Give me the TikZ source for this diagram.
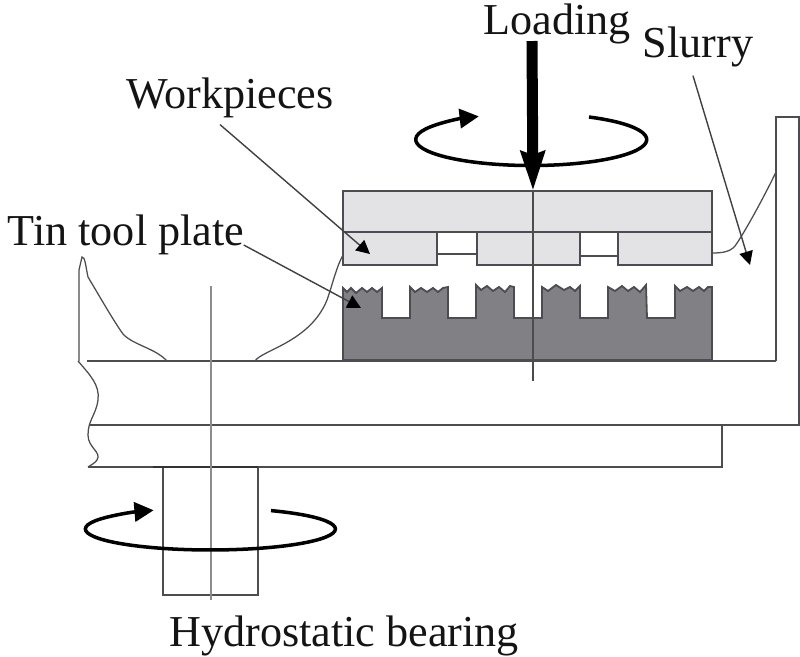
\documentclass[tikz,border=0pt]{standalone}
\usepackage{fontspec}
\setmainfont{Liberation Serif}
\usetikzlibrary{arrows.meta}
\begin{document}
\begin{tikzpicture}[x=0.0125cm,y=-0.0125cm,
  lbl/.style={inner sep=0pt,font=\fontsize{15.7}{18}\selectfont,text=black!92},
  leader/.style={draw=clead,line width=0.5pt,-{Stealth[length=0.17cm,width=0.17cm,inset=0pt,color=black]}},
  outline/.style={draw=cline,line width=0.65pt},
  thin line/.style={draw=cline,line width=0.45pt},
  axis line/.style={draw=caxis,line width=0.5pt},
  spin/.style={draw=black,line width=1.25pt,-{Stealth[length=0.24cm,width=0.24cm,inset=0pt]}}]
%
\useasboundingbox (0,0) rectangle (800,656);
%
\definecolor{cline}{rgb}{0.30,0.30,0.32}
\definecolor{clead}{rgb}{0.25,0.25,0.27}
\definecolor{caxis}{rgb}{0.55,0.55,0.56}
\definecolor{cwork}{rgb}{0.89,0.89,0.90}
\definecolor{ctool}{rgb}{0.50,0.50,0.52}
%
% rotary table and the wall on its right
\draw[outline] (87,361) -- (776,361) (776,361) -- (776,117) -- (799,117) -- (799,425) -- (90,425);
\draw[outline] (88,467) -- (722,467) -- (722,425);
\draw[thin line] (78,361) .. controls (90,375) and (100,385) .. (98,400) .. controls (96,415) and (88,420) .. (88,435) .. controls (88,448) and (102,452) .. (97,460) .. controls (95,463) and (91,465) .. (88,467);
%
% slurry surface
\draw[thin line] (79,361) -- (79,270) -- (82,257) .. controls (85,256) and (86,268) .. (88,277) .. controls (100,297) and (113,320) .. (123,334) .. controls (133,345) and (155,348) .. (167,361);
\draw[thin line] (255,361) .. controls (262,350) and (310,342) .. (327,300) .. controls (333,283) and (336,268) .. (343,255);
\draw[thin line] (712,253) .. controls (722,253) and (730,252) .. (735,246) .. controls (745,232) and (765,195) .. (776,172);
%
% carrier plate with the workpieces
\draw[outline,fill=cwork] (343,191) rectangle (712,232);
\draw[outline,fill=cwork] (343,232) rectangle (437,265);
\draw[outline,fill=cwork] (477,232) rectangle (580,265);
\draw[outline,fill=cwork] (618,232) rectangle (712,265);
\draw[outline] (437,254) -- (477,254) (580,256) -- (618,256);
%
% tool plate with its grooves and rough top
\draw[outline,fill=ctool] (343,360) -- (343,288) -- (347,292) -- (351,288) -- (356,293) -- (362,288) -- (367,292) -- (372,288) -- (377,292) -- (382,288)
  -- (382,318) -- (410,318) -- (410,287) -- (415,292) -- (421,288) -- (427,292) -- (433,288) -- (438,292) -- (443,288) -- (448,287)
  -- (448,318) -- (476,318) -- (476,285) -- (481,290) -- (487,286) -- (493,291) -- (499,287) -- (505,292) -- (510,286) -- (514,287)
  -- (514,318) -- (542,318) -- (542,287) -- (548,291) -- (556,285) -- (564,290) -- (570,287) -- (575,291) -- (580,286)
  -- (580,318) -- (608,318) -- (608,287) -- (615,291) -- (622,286) -- (628,291) -- (634,287) -- (640,292) -- (646,285)
  -- (647,318) -- (675,318) -- (675,286) -- (680,291) -- (687,287) -- (693,291) -- (699,287) -- (704,291) -- (708,287) -- (712,287)
  -- (712,360) -- cycle;
%
% hydrostatic bearing
\draw[outline] (163,467) -- (163,595) -- (258,595) -- (258,467);
\draw[draw=black!80,line width=0.85pt] (153,467) -- (258,467);
%
% rotation axes
\coordinate (topaxis) at (533,191);
\coordinate (topaxisend) at (533,381);
\coordinate (botaxis) at (211,286);
\coordinate (botaxisend) at (211,600);
\draw[draw=black!70,line width=0.5pt] (topaxis) -- (topaxisend);
\draw[axis line] (botaxis) -- (botaxisend);
%
% rotation arrows
\draw[spin] (589,117) arc[start angle=-60,end angle=243,x radius=115.5,y radius=26];
\draw[spin] (271,510.6) arc[start angle=-61,end angle=243,x radius=125,y radius=21];
%
% labels
\node[lbl] (loading) at (557,24) {Loading};
\node[lbl] (slurry) at (698,47) {Slurry};
\node[lbl] (workpieces) at (230,98) {Workpieces};
\node[lbl] (tinplate) at (126,235) {Tin tool plate};
\node[lbl] (bearing) at (344,636) {Hydrostatic bearing};
%
\coordinate (loadstart) at (532,41);
\coordinate (worktip) at (370,254);
\coordinate (tooltip) at (361,308);
\coordinate (slurrytip) at (750,265);
%
% load arrow and leader lines
\draw[draw=black,line width=0.1375cm,-{Stealth[length=0.49cm,width=0.29cm,inset=0.04cm]}] (loadstart) -- (topaxis);
\draw[leader] (workpieces.south) ++(-10,6) -- (worktip);
\draw[leader] (tinplate.east) ++(-1,10) -- (tooltip);
\draw[leader] (slurry.south) ++(-5,8) -- (slurrytip);
%
\end{tikzpicture}
\end{document}
